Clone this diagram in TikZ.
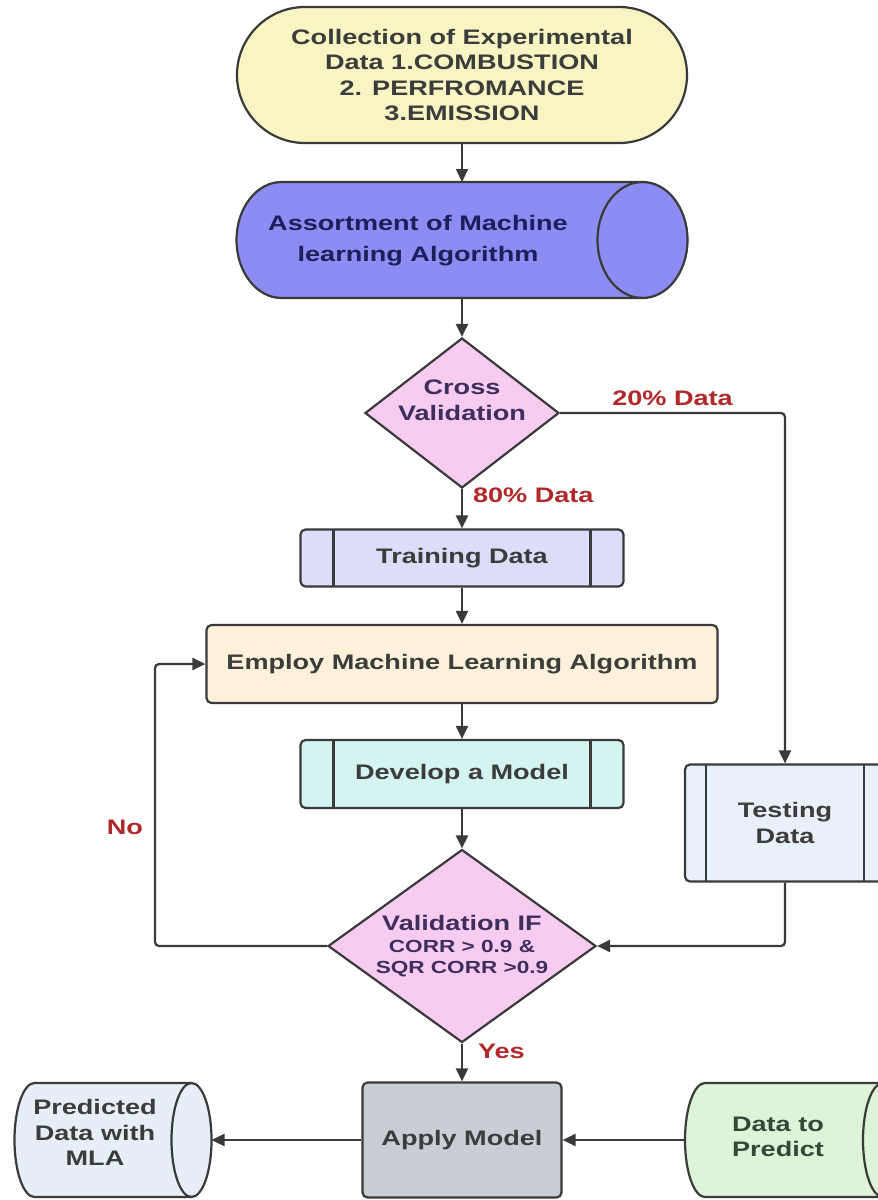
\documentclass[tikz,border=0pt]{standalone}
\usepackage{fontspec}
\setmainfont{Liberation Sans}[FakeStretch=1.29]
\usetikzlibrary{shapes.geometric,arrows.meta,calc,backgrounds}
\definecolor{lc}{HTML}{3A3A3A}
\definecolor{tc}{HTML}{3C3C3C}
\definecolor{rc}{HTML}{B02828}
\definecolor{cTop}{HTML}{F9F5C2}
\definecolor{cAlg}{HTML}{8C8CF2}
\definecolor{tAlg}{HTML}{1E1E5C}
\definecolor{cDia}{HTML}{F8CBF0}
\definecolor{tDia}{HTML}{3E2E5E}
\definecolor{cTrain}{HTML}{DCDDF8}
\definecolor{cEmp}{HTML}{FDF1DA}
\definecolor{cDev}{HTML}{D4F4F1}
\definecolor{cTest}{HTML}{E8F0FA}
\definecolor{cApp}{HTML}{C9CED6}
\definecolor{cPred}{HTML}{E6EEF8}
\definecolor{cDtp}{HTML}{DDF4D8}
\definecolor{tDtp}{HTML}{34483A}
\newcommand\cylout[4]{%
  \draw[line width=2.2pt, draw=lc, fill=#4]
    ([xshift=#2]#1.north west) -- ([xshift=-#2]#1.north east)
    arc[start angle=90, end angle=-90, x radius=#2, y radius=#3]
    -- ([xshift=#2]#1.south west)
    arc[start angle=270, end angle=90, x radius=#2, y radius=#3] -- cycle;
  \draw[line width=2.2pt, draw=lc]
    ([xshift=-#2]#1.north east) arc[start angle=90, end angle=270, x radius=#2, y radius=#3];}
\newcommand\smallf{\fontsize{17.5}{20.5}\selectfont}
\newcommand\lines[1]{\begin{tabular}{@{}c@{}}#1\end{tabular}}
\begin{document}
\begin{tikzpicture}[x=1pt,y=-1pt,
  base/.style={draw=lc, line width=2.2pt, font=\bfseries\fontsize{21}{25.5}\selectfont, text=tc, align=center, inner sep=2pt},
  proc/.style={base, rectangle, rounded corners=5pt},
  sub/.style={proc, path picture={
     \draw[line width=2.2pt, draw=lc]
       ([xshift=#1]path picture bounding box.north west) -- ([xshift=#1]path picture bounding box.south west)
       ([xshift=-#1]path picture bounding box.north east) -- ([xshift=-#1]path picture bounding box.south east);}},
  sub/.default=33pt,
  dec/.style={base, diamond, inner sep=-15pt, fill=cDia, text=tDia},
  cylnode/.style={draw=none, fill=none, outer sep=0pt, inner sep=0pt, rectangle,
     font=\bfseries\fontsize{21}{25.5}\selectfont, text=tc},
  arr/.style={draw=lc, line width=2.2pt, -{Triangle[length=13pt,width=12pt]}},
  lbl/.style={font=\bfseries\fontsize{21}{25}\selectfont, text=rc, inner sep=1pt}
]
\useasboundingbox (0,0) rectangle (878,1200);

\node[base, rectangle, rounded corners=68pt, fill=cTop, minimum width=450pt, minimum height=136pt]
  (top) at (462,75) {Collection of Experimental\\Data 1.COMBUSTION\\2. PERFROMANCE\\3.EMISSION};
\node[cylnode, text=tAlg, font=\bfseries\fontsize{21}{31}\selectfont, minimum width=451pt, minimum height=116pt]
  (alg) at (462,240) {\lines{Assortment of Machine\\learning Algorithm}\hspace*{88pt}};
\node[dec, aspect=1.29, minimum width=194pt, minimum height=150pt] (cv) at (462,413) {Cross\\Validation\\\mbox{}};
\node[sub, fill=cTrain, minimum width=323pt, minimum height=57pt] (train) at (462,558) {Training Data};
\node[proc, fill=cEmp, minimum width=511pt, minimum height=78pt] (emp) at (462,664) {Employ Machine Learning Algorithm};
\node[sub, fill=cDev, minimum width=323pt, minimum height=68pt] (dev) at (462,774) {Develop a Model};
\node[dec, aspect=1.39, minimum width=268pt, minimum height=193pt] (val) at (462,946)
  {Validation IF\\[-3pt]\smallf CORR > 0.9 \&\\[-5pt]\smallf SQR CORR >0.9};
\node[sub=21pt, fill=cTest, minimum width=200pt, minimum height=117pt] (test) at (785,823) {Testing\\Data};
\node[proc, fill=cApp, minimum width=199pt, minimum height=115pt] (app) at (462,1140) {Apply Model};
\node[cylnode, minimum width=197pt, minimum height=114pt]
  (pred) at (113,1140) {\raisebox{5pt}[\height][\depth]{\lines{Predicted\\Data with\\MLA}}\hspace*{36pt}};
\node[cylnode, text=tDtp, minimum width=218pt, minimum height=114pt]
  (dtp) at (794,1140) {\raisebox{1pt}[\height][\depth]{\lines{Data to\\Predict}}\hspace*{32pt}};

\begin{pgfonlayer}{background}
  \fill[white] (0,0) rectangle (878,1200);
  \cylout{alg}{45pt}{58pt}{cAlg}
  \cylout{pred}{20pt}{57pt}{cPred}
  \cylout{dtp}{20pt}{57pt}{cDtp}
\end{pgfonlayer}

\coordinate (lp) at (155,0);

\draw[arr] (top.south) -- (top.south |- alg.north);
\draw[arr] (top.south |- alg.south) -- (cv.north);
\draw[arr] (cv.south) -- node[lbl, anchor=west, pos=0.15, xshift=9pt] {80\% Data} (train.north);
\draw[arr, rounded corners=4pt] (cv.east) -- node[lbl, above, pos=0.5, yshift=5pt] {20\% Data} (cv.east -| test.north) -- (test.north);
\draw[arr] (train.south) -- (emp.north);
\draw[arr] (emp.south) -- (dev.north);
\draw[arr] (dev.south) -- (val.north);
\draw[arr, rounded corners=4pt] (val.west) -- (val.west -| lp) -- node[lbl, left, pos=0.42, xshift=-10pt] {No} (emp.west -| lp) -- (emp.west);
\draw[arr, rounded corners=4pt] (test.south) -- (test.south |- val.east) -- (val.east);
\draw[arr] (val.south) -- node[lbl, anchor=west, pos=0.2, xshift=14pt] {Yes} (app.north);
\draw[arr] (app.west) -- (pred.east);
\draw[arr] (dtp.west) -- (app.east);
\end{tikzpicture}
\end{document}
